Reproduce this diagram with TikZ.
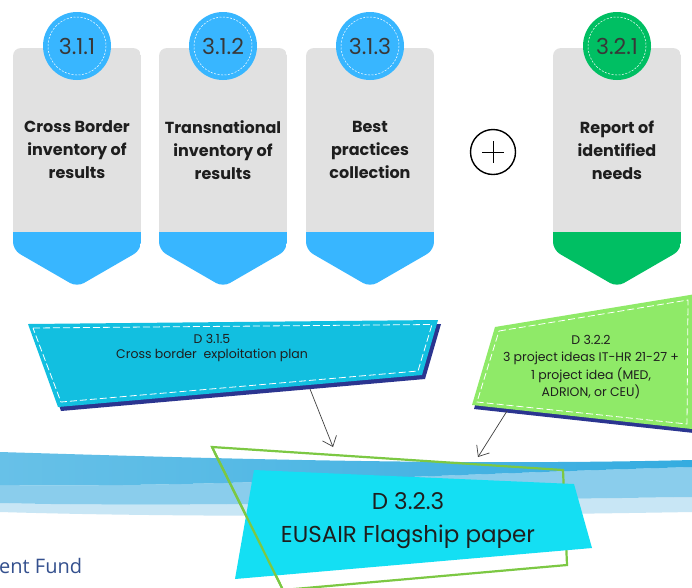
\documentclass[tikz,border=0pt]{standalone}
\usepackage{fontspec}
\setmainfont{Poppins}
\newfontfamily\fundfont{Open Sans}
\usepackage{tikz}
\usetikzlibrary{calc,arrows.meta}
\definecolor{card}{HTML}{E1E1E1}
\definecolor{blue}{HTML}{38B6FF}
\definecolor{green}{HTML}{00BF63}
\definecolor{ink}{HTML}{1E1E1E}
\definecolor{numink}{HTML}{383838}
\definecolor{teal}{HTML}{12BFE0}
\definecolor{lime}{HTML}{8FEA68}
\definecolor{navy}{HTML}{2B3590}
\definecolor{aqua}{HTML}{14DFF3}
\definecolor{frame}{HTML}{7CC843}
\definecolor{waveA}{HTML}{35ACE0}
\definecolor{waveB}{HTML}{8ACDEC}
\definecolor{waveC}{HTML}{C8E6F5}
\definecolor{fund}{HTML}{34508E}
\tikzset{
  num/.style={circle, minimum size=68pt, inner sep=0pt, text=numink, font=\fontsize{22}{22}\selectfont},
  ring/.style={draw=white, line width=0.5pt, dash pattern=on 2pt off 1.5pt},
  lbl/.style={text=ink, font=\bfseries\fontsize{16}{23}\selectfont, align=center},
  blbl/.style={text=ink, font=\fontsize{12.5}{17.5}\selectfont, align=center},
  seam/.style={draw=white, line width=0.8pt, dash pattern=on 7pt off 3pt},
  arr/.style={draw=ink!85, line width=0.7pt, -{Straight Barb[length=9pt,width=15pt]}},
  fline/.style={draw=frame, line width=2.2pt}
}
\begin{document}
\begin{tikzpicture}[x=1pt,y=-1pt]
  \useasboundingbox (0,0) rectangle (692,587);
  \fill[white] (0,0) rectangle (692,587);
  \clip (0,0) rectangle (692,587);

  % cards with number badges
  \foreach \i/\cx/\num/\col/\txt in {
      1/77/3.1.1/blue/{Cross Border\\inventory of\\results},
      2/223/3.1.2/blue/{Transnational\\inventory of\\results},
      3/370/3.1.3/blue/{Best\\practices\\collection},
      4/617/3.2.1/green/{Report of\\identified\\needs}}{
    \begin{scope}
      \clip[rounded corners=8pt] (\cx-64,48) -- (\cx+64,48) -- (\cx+64,250)
        -- (\cx,287) -- (\cx-64,250) -- cycle;
      \fill[card] (\cx-64,48) rectangle (\cx+64,232);
      \fill[\col] (\cx-64,232) rectangle (\cx+64,290);
    \end{scope}
    \node[num, fill=\col] (n\i) at (\cx,46) {\num};
    \draw[ring] (n\i.center) circle (29);
    \node[lbl] (c\i) at (\cx,150) {\txt};
  }

  \node[circle, draw=black, line width=1.4pt, minimum size=45pt] (plus) at (493,152) {};
  \draw[line width=1pt] ($(plus)+(-11,0)$) -- ($(plus)+(11,0)$);
  \draw[line width=1pt] ($(plus)+(0,-11)$) -- ($(plus)+(0,11)$);

  % wave
  \fill[waveC] (0,503) .. controls (200,508) and (450,500) .. (692,497)
    -- (692,512) .. controls (450,516) and (200,518) .. (0,512) -- cycle;
  \fill[waveB] (0,485) .. controls (200,488) and (450,474) .. (692,467)
    -- (692,497) .. controls (450,500) and (200,508) .. (0,503) -- cycle;
  \shade[left color=waveA!75!white, right color=waveA] (0,452) .. controls (200,458) and (450,466) .. (692,460)
    -- (692,467) .. controls (450,474) and (200,488) .. (0,485) -- cycle;

  % blue banner
  \coordinate (b1) at (28,324);
  \coordinate (b2) at (438,320);
  \coordinate (b3) at (422,375);
  \coordinate (b4) at (58,407);
  \fill[navy] ($(b1)+(3,4)$) -- ($(b2)+(3,4)$) -- ($(b3)+(3,4)$) -- ($(b4)+(3,4)$) -- cycle;
  \fill[teal] (b1) -- (b2) -- (b3) -- (b4) -- cycle;
  \draw[seam] (33,328) -- (432,324.5) -- (418,371) -- (61,402) -- cycle;
  \node[blbl, font=\fontsize{12.5}{15}\selectfont] (bt) at (212,348) {D 3.1.5\\Cross border\ \ exploitation plan};

  % green banner
  \coordinate (g1) at (495,327);
  \coordinate (g2) at (696,294);
  \coordinate (g3) at (692,429);
  \coordinate (g4) at (472,405);
  \fill[navy] ($(g1)+(2,4)$) -- ($(g2)+(2,4)$) -- ($(g3)+(2,4)$) -- ($(g4)+(2,4)$) -- cycle;
  \fill[lime] (g1) -- (g2) -- (g3) -- (g4) -- cycle;
  \draw[seam] (499,331) -- (688,300) -- (687,424) -- (477,402) -- cycle;
  \node[blbl] (gt) at (591,367) {D 3.2.2\\3 project ideas IT-HR 21-27 +\\1 project idea (MED,\\ADRION, or CEU)};

  % flagship paper
  \coordinate (f1) at (212,447);
  \coordinate (f2) at (563,470);
  \coordinate (f3) at (567,565);
  \coordinate (f4) at (283,590);
  \draw[fline] (f1) -- (f2) -- (f3) -- (f4) -- cycle;
  \fill[aqua] (254,470) -- (574,484) -- (592,548) -- (235,579) -- cycle;
  \draw[fline] (f1) -- (f4);
  \node[text=ink, font=\fontsize{23}{33}\selectfont, align=center] (eu) at (408,521) {D 3.2.3\\EUSAIR Flagship paper};

  \coordinate (from1) at (310,389);
  \coordinate (to1) at (333,447);
  \coordinate (from2) at (507,411);
  \coordinate (to2) at (478,457);
  \draw[arr] (from1) -- (to1);
  \draw[arr] (from2) -- (to2);

  \node[anchor=west, inner sep=0pt, text=fund, font=\fundfont\fontsize{20}{20}\selectfont] (fund) at (-1,566) {ent Fund};
\end{tikzpicture}
\end{document}
